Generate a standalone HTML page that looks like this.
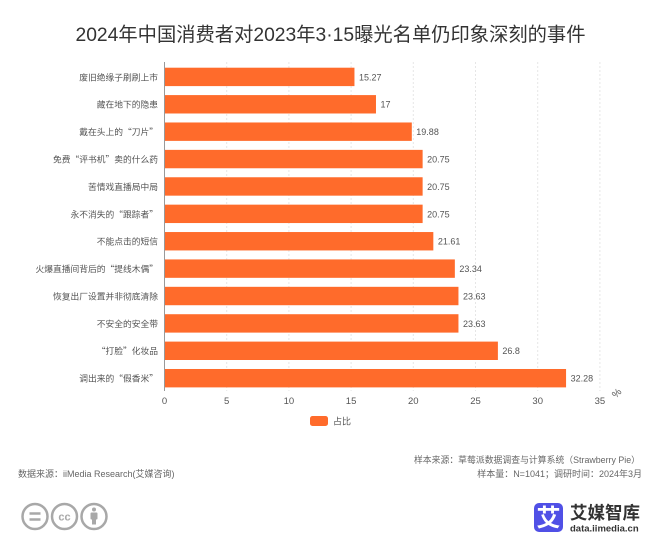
<!DOCTYPE html>
<html><head><meta charset="utf-8">
<style>
html,body{margin:0;padding:0;background:#fff}
body{width:660px;height:542px;overflow:hidden}
svg{display:block}
text{font-family:"Liberation Sans","Noto Sans CJK SC",sans-serif}
text.cjk{font-family:"Noto Sans CJK SC","Liberation Sans",sans-serif}
</style></head>
<body>
<svg id="chart" width="660" height="542" viewBox="0 0 660 542" xmlns="http://www.w3.org/2000/svg">
<text x="330.500" y="41" text-anchor="middle" font-size="19.300" fill="#333">2024年中国消费者对2023年3·15曝光名单仍印象深刻的事件</text>
<g id="grid"></g><g id="bars"></g><g id="labels"></g><g id="ticks"></g>
<text x="616.500" y="396.500" font-size="10" fill="#555" transform="rotate(-45 616.500 393)" text-anchor="middle">%</text>
<rect x="310" y="416" width="18" height="10" rx="2.500" fill="#ff6b2b"/>
<text x="333" y="424.500" font-size="9" fill="#555">占比</text>
<text x="640" y="463" text-anchor="end" font-size="8.850" fill="#666">样本来源：草莓派数据调查与计算系统（Strawberry Pie）</text>
<text x="642" y="477" text-anchor="end" font-size="9" fill="#666">样本量：N=1041；调研时间：2024年3月</text>
<text x="18" y="477" font-size="9" fill="#666">数据来源：iiMedia Research(艾媒咨询)</text>
<g fill="none" stroke="#a8a8a8" stroke-width="2.500">
<circle cx="35" cy="516.500" r="12.500"/><circle cx="64.500" cy="516.500" r="12.500"/><circle cx="94" cy="516.500" r="12.500"/>
<path d="M29.500 513.500h11M29.500 519.500h11"/>
</g>
<text x="64.500" y="520.500" text-anchor="middle" font-size="11" font-weight="bold" fill="#a8a8a8">cc</text>
<g fill="#a8a8a8"><circle cx="94" cy="509.500" r="2"/><rect x="90.500" y="512.500" width="7" height="7" rx="1"/><rect x="92" y="518.500" width="4" height="6"/></g>
<rect x="534" y="503" width="29" height="29" rx="5" fill="#5050e6"/>
<text x="548.500" y="526" text-anchor="middle" font-size="24" font-weight="bold" fill="#fff">艾</text>
<text x="570" y="519" font-size="17.500" font-weight="bold" fill="#333">艾媒智库</text>
<text x="570" y="531.500" font-size="9.500" font-weight="bold" fill="#333">data.iimedia.cn</text>
</svg>
<script>
const categories = ["废旧绝缘子刷刷上市","藏在地下的隐患","戴在头上的“刀片”","免费“评书机”卖的什么药","苦情戏直播局中局","永不消失的“跟踪者”","不能点击的短信","火爆直播间背后的“提线木偶”","恢复出厂设置并非彻底清除","不安全的安全带","“打脸”化妆品","调出来的“假香米”"];
const seriesValues = [15.27,17,19.88,20.75,20.75,20.75,21.61,23.34,23.63,23.63,26.8,32.28];
const tickLabels = [0,5,10,15,20,25,30,35];
const NS = "http://www.w3.org/2000/svg";
const xScale = v => 164.5 + v * 12.44;
const yScale = i => 67.7 + i * 27.39;
function make(parent, tag, attrs, text) {
  const el = document.createElementNS(NS, tag);
  for (const k in attrs) el.setAttribute(k, attrs[k]);
  if (text !== undefined) el.textContent = text;
  document.getElementById(parent).appendChild(el);
  return el;
}
tickLabels.forEach(t => {
  if (t > 0) {
    const g = make("grid", "line", {x1:xScale(t), x2:xScale(t), y1:62, y2:391, stroke:"#e6e6e6", "stroke-width":1, "stroke-dasharray":"2 2"});
    
    
  }
  const l = make("ticks", "text", {x:xScale(t), y:404, "text-anchor":"middle", "font-size":9.5, fill:"#555"}, t);
  
  
});
const axis = make("ticks", "line", {x1:xScale(0), x2:xScale(0), y1:62, y2:391, stroke:"#999", "stroke-width":1});


categories.forEach((c, i) => {
  const y = yScale(i);
  const b = make("bars", "rect", {x:xScale(0), y:y, width:xScale(seriesValues[i]) - xScale(0), height:18.4, fill:"#ff6b2b"});
  
  
  const cat = make("labels", "text", {x:158, y:y + 12.6, "text-anchor":"end", "font-size":8.75, fill:"#555", class:"cjk"}, c);
  
  
  const val = make("labels", "text", {x:xScale(seriesValues[i]) + 4.5, y:y + 12.6, "font-size":9, fill:"#555"}, seriesValues[i]);
  
  
});
</script>
</body></html>
